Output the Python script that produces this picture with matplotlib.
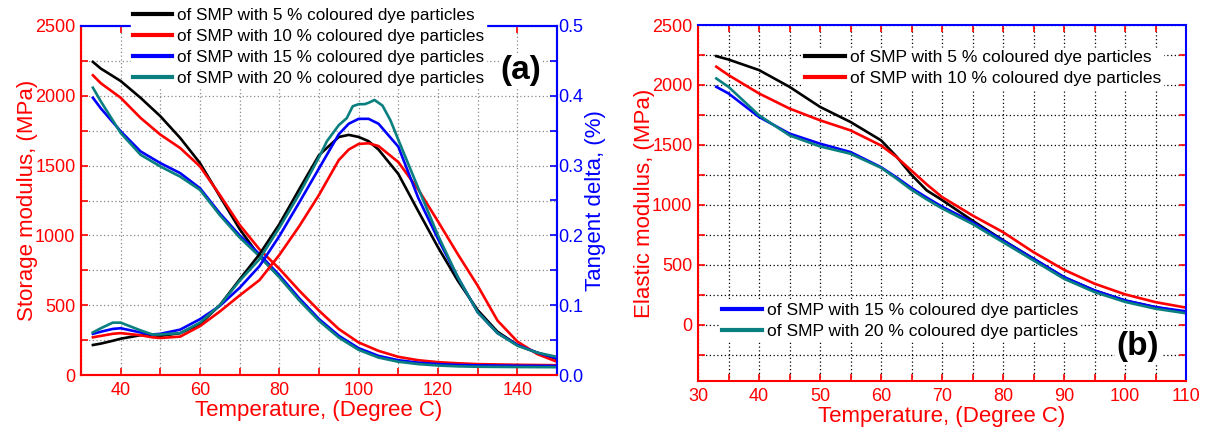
import matplotlib
matplotlib.use("Agg")
import matplotlib.pyplot as plt
from matplotlib.ticker import MultipleLocator, FormatStrFormatter

plt.rcParams['font.family'] = ['Liberation Sans', 'DejaVu Sans']

# ---------------- data ----------------
labels = ["of SMP with 5 % coloured dye particles",
          "of SMP with 10 % coloured dye particles",
          "of SMP with 15 % coloured dye particles",
          "of SMP with 20 % coloured dye particles"]
colors = ["#000000", "#ff0000", "#0000ff", "#0a7f7f"]

# Panel (a): storage modulus (MPa)
temp_a = [33, 35, 40, 45, 50, 55, 60, 65, 70, 75, 80, 85, 90, 95, 100, 105,
          110, 115, 120, 125, 130, 140, 150]
storage_5 = [2243, 2195, 2106, 1986, 1854, 1698, 1518, 1280, 1045, 850, 705, 545,
             395, 275, 185, 130, 100, 85, 76, 71, 68, 66, 65]
storage_10 = [2147, 2090, 1986, 1842, 1722, 1626, 1494, 1290, 1075, 900, 761, 605,
              461, 329, 233, 173, 130, 106, 92, 84, 78, 73, 70]
storage_15 = [1986, 1910, 1746, 1602, 1518, 1446, 1338, 1158, 1000, 865, 715, 550,
              401, 281, 192, 137, 106, 88, 78, 72, 69, 66, 65]
storage_20 = [2058, 1960, 1734, 1578, 1494, 1421, 1326, 1145, 985, 850, 700, 535,
              388, 268, 180, 125, 95, 78, 68, 62, 59, 57, 56]

# Panel (a): tangent delta
temp_tan = [33, 35, 38, 40, 45, 48, 50, 55, 60, 65, 70, 75, 80, 85, 90, 95, 97.5,
            100, 102.5, 105, 110, 115, 120, 125, 130, 135, 140, 145, 150]
tan_5 = [0.043, 0.045, 0.049, 0.052, 0.057, 0.057, 0.056, 0.060, 0.073, 0.100,
         0.137, 0.173, 0.216, 0.266, 0.315, 0.341, 0.344, 0.341, 0.335, 0.323,
         0.288, 0.235, 0.183, 0.135, 0.093, 0.062, 0.043, 0.032, 0.023]
tan_10 = [0.054, 0.056, 0.059, 0.060, 0.057, 0.054, 0.053, 0.055, 0.070, 0.091,
          0.114, 0.136, 0.172, 0.213, 0.258, 0.308, 0.323, 0.331, 0.332, 0.328,
          0.305, 0.266, 0.220, 0.173, 0.128, 0.078, 0.048, 0.030, 0.019]
tan_15 = [0.059, 0.062, 0.066, 0.067, 0.061, 0.058, 0.059, 0.065, 0.080, 0.099,
          0.125, 0.156, 0.199, 0.247, 0.296, 0.345, 0.360, 0.367, 0.367, 0.360,
          0.327, 0.254, 0.195, 0.140, 0.090, 0.060, 0.043, 0.032, 0.024]
temp_tan_20 = [33, 35, 38, 40, 45, 48, 50, 55, 60, 65, 70, 75, 80, 85, 90, 92, 95,
               97, 98.5, 100, 101.5, 102.5, 104, 106, 108, 110, 115, 120, 125, 130,
               135, 140, 145, 150]
tan_20 = [0.061, 0.067, 0.075, 0.075, 0.064, 0.058, 0.058, 0.060, 0.075, 0.100,
          0.135, 0.166, 0.211, 0.259, 0.312, 0.335, 0.358, 0.368, 0.385, 0.388,
          0.388, 0.390, 0.394, 0.386, 0.365, 0.337, 0.268, 0.200, 0.140, 0.090,
          0.060, 0.042, 0.032, 0.026]

# Panel (b): elastic modulus (MPa)
temp_b = [33, 35, 40, 45, 50, 55, 60, 62.5, 65, 67.5, 70, 75, 80, 85, 90, 95,
          100, 105, 110]
elastic_5 = [2240, 2212, 2124, 1984, 1817, 1691, 1538, 1405, 1250, 1120, 1040, 868,
             705, 550, 395, 285, 200, 145, 102]
elastic_10 = [2152, 2082, 1929, 1803, 1705, 1621, 1495, 1400, 1285, 1170, 1065, 911,
              772, 605, 458, 342, 253, 188, 142]
elastic_15 = [1984, 1929, 1733, 1594, 1510, 1440, 1314, 1230, 1140, 1060, 985, 855,
              702, 550, 397, 286, 203, 147, 111]
elastic_20 = [2054, 1984, 1747, 1579, 1487, 1426, 1309, 1220, 1125, 1045, 970, 840,
              688, 536, 383, 272, 190, 133, 95]

RED = "#ff0000"
BLUE = "#0000ff"
LW = 1.9

fig = plt.figure(figsize=(12.11, 4.28), dpi=100)

# ---------------- panel (a) ----------------
ax = fig.add_axes([81/1211, 1-375/428, (557-81)/1211, (375-26)/428])
ax2 = ax.twinx()

storages = [storage_5, storage_10, storage_15, storage_20]
tans = [(temp_tan, tan_5), (temp_tan, tan_10), (temp_tan, tan_15), (temp_tan_20, tan_20)]
handles = []
for s, c, lab in zip(storages, colors, labels):
    h, = ax.plot(temp_a, s, color=c, lw=LW, label=lab)
    handles.append(h)
for (t, v), c in zip(tans, colors):
    ax2.plot(t, v, color=c, lw=LW)

ax.set_xlim(30, 150)
ax.set_ylim(0, 2500)
ax2.set_ylim(0, 0.5)
ax.xaxis.set_major_locator(MultipleLocator(20))
ax.xaxis.set_minor_locator(MultipleLocator(10))
ax.yaxis.set_major_locator(MultipleLocator(500))
ax.yaxis.set_minor_locator(MultipleLocator(250))
ax2.yaxis.set_major_locator(MultipleLocator(0.1))
ax2.yaxis.set_minor_locator(MultipleLocator(0.05))
ax2.yaxis.set_major_formatter(FormatStrFormatter('%.1f'))
ax.grid(True, which='both', color='#8a8a8a', linestyle=(0, (1, 2)), lw=0.9)
ax.set_axisbelow(True)

ax.tick_params(axis='x', which='both', direction='in', top=True, colors=RED,
               labelsize=13, length=5, width=1.2, pad=5)
ax.tick_params(axis='y', which='both', direction='in', colors=RED,
               labelsize=13, length=5, width=1.2, pad=4)
ax2.tick_params(axis='y', which='both', direction='in', colors=BLUE,
                labelsize=13, length=5, width=1.2, pad=1)
for sp in ['left', 'bottom']:
    ax.spines[sp].set_color(RED)
    ax.spines[sp].set_linewidth(1.5)
for sp in ['top', 'right']:
    ax.spines[sp].set_color(BLUE)
    ax.spines[sp].set_linewidth(1.5)
    ax2.spines[sp].set_color(BLUE)
    ax2.spines[sp].set_linewidth(1.5)
ax2.spines['left'].set_color(RED)
ax2.spines['bottom'].set_color(RED)
ax2.spines['left'].set_linewidth(1.5)
ax2.spines['bottom'].set_linewidth(1.5)

ax.set_xlabel("Temperature, (Degree C)", color=RED, fontsize=16, labelpad=1)
ax.set_ylabel("Storage modulus, (MPa)", color=RED, fontsize=16, labelpad=-2)
ax2.set_ylabel("Tangent delta, (%)", color=BLUE, fontsize=16, labelpad=1)

leg = ax2.legend(handles=handles, loc='upper left',
                 bbox_to_anchor=(131/1211, 1-6/428), bbox_transform=fig.transFigure,
                 fontsize=12.3, frameon=True, framealpha=1, edgecolor='white',
                 facecolor='white', handlelength=2.3, handletextpad=0.3,
                 labelspacing=0.35, borderpad=0.1, borderaxespad=0)
for l in leg.get_lines():
    l.set_linewidth(3)
leg.set_zorder(10)
ax2.text(521/1211, 1-70/428, "(a)", transform=fig.transFigure, fontsize=24,
         fontweight='bold', ha='center', va='center',
         bbox=dict(facecolor='white', edgecolor='none', pad=1))

fig.canvas.draw()
for tk in ax.xaxis.get_major_ticks() + ax.xaxis.get_minor_ticks():
    tk.tick2line.set_color(BLUE)

# ---------------- panel (b) ----------------
bx = fig.add_axes([698/1211, 1-381/428, (1186-698)/1211, (381-25)/428])
elastics = [elastic_5, elastic_10, elastic_15, elastic_20]
bh = []
for e, c, lab in zip(elastics, colors, labels):
    h, = bx.plot(temp_b, e, color=c, lw=LW, label=lab)
    bh.append(h)
bx.set_xlim(30, 110)
bx.set_ylim(-470, 2500)
bx.xaxis.set_major_locator(MultipleLocator(10))
bx.xaxis.set_minor_locator(MultipleLocator(5))
bx.yaxis.set_major_locator(MultipleLocator(500))
bx.yaxis.set_minor_locator(MultipleLocator(250))
bx.grid(True, which='both', color='#000000', linestyle=(0, (1, 2)), lw=0.9)
bx.set_axisbelow(True)
bx.tick_params(axis='x', which='both', direction='in', top=True, colors=RED,
               labelsize=13, length=5, width=1.2, pad=5)
bx.tick_params(axis='y', which='both', direction='in', right=True, colors=RED,
               labelsize=13, length=5, width=1.2, pad=4)
for sp in ['left', 'bottom']:
    bx.spines[sp].set_color(RED)
    bx.spines[sp].set_linewidth(1.5)
for sp in ['top', 'right']:
    bx.spines[sp].set_color(BLUE)
    bx.spines[sp].set_linewidth(1.5)
bx.set_xlabel("Temperature, (Degree C)", color=RED, fontsize=16, labelpad=1)
bx.set_ylabel("Elastic modulus, (MPa)", color=RED, fontsize=16, labelpad=-2)

leg1 = bx.legend(handles=bh[:2], loc='upper left',
                 bbox_to_anchor=(803/1211, 1-48/428), bbox_transform=fig.transFigure,
                 fontsize=12.5, frameon=True, framealpha=1, edgecolor='white',
                 facecolor='white', handlelength=2.3, handletextpad=0.3,
                 labelspacing=0.37, borderpad=0.1, borderaxespad=0)
for l in leg1.get_lines():
    l.set_linewidth(3)
bx.add_artist(leg1)
leg2 = bx.legend(handles=bh[2:], loc='upper left',
                 bbox_to_anchor=(720/1211, 1-301/428), bbox_transform=fig.transFigure,
                 fontsize=12.5, frameon=True, framealpha=1, edgecolor='white',
                 facecolor='white', handlelength=2.3, handletextpad=0.3,
                 labelspacing=0.37, borderpad=0.1, borderaxespad=0)
for l in leg2.get_lines():
    l.set_linewidth(3)
bx.text(1138/1211, 1-347/428, "(b)", transform=fig.transFigure, fontsize=24,
        fontweight='bold', ha='center', va='center',
        bbox=dict(facecolor='white', edgecolor='none', pad=1))

fig.canvas.draw()
for tk in bx.xaxis.get_major_ticks() + bx.xaxis.get_minor_ticks():
    tk.tick2line.set_color(BLUE)
for tk in bx.yaxis.get_major_ticks() + bx.yaxis.get_minor_ticks():
    tk.tick2line.set_color(BLUE)

fig.savefig("out.png", dpi=100)
